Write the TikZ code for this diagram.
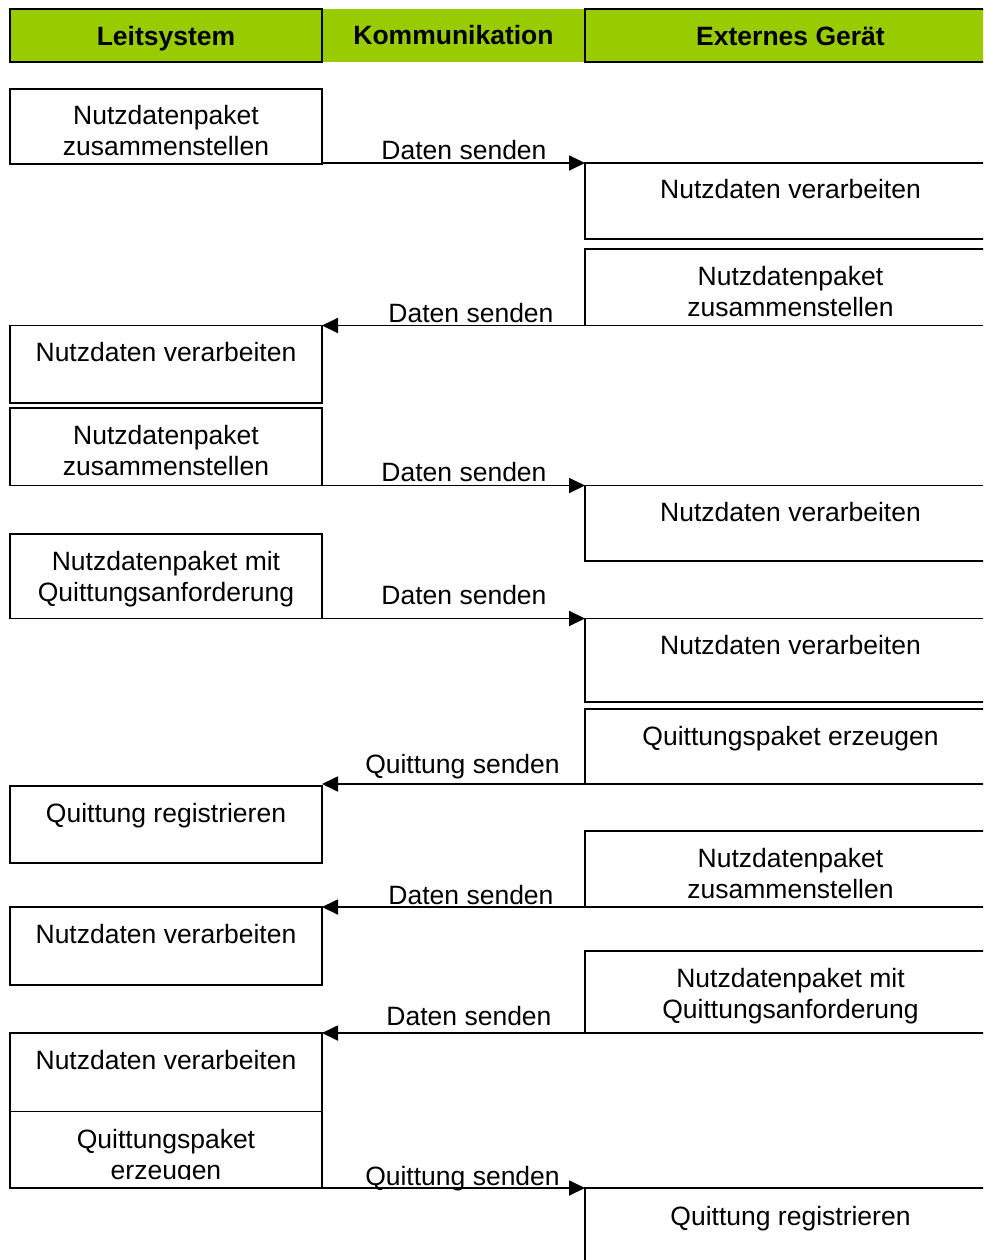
\documentclass[tikz,border=0pt]{standalone}
\usepackage{fontspec}
\setmainfont{Liberation Sans}
\usetikzlibrary{arrows.meta,calc}
\definecolor{hdrgreen}{HTML}{99CC00}
% first-line baseline for stacked box texts
\newcommand\ml[1]{\begin{tabular}[t]{@{}c@{}}#1\end{tabular}}
\tikzset{
  lbox/.style={draw=black, line width=1.8pt, inner sep=0pt, outer sep=0pt,
               minimum width=312pt, anchor=north west},
  rbox/.style={lbox, minimum width=411pt},
  plain/.style={inner sep=0pt, outer sep=0pt, minimum width=312pt, anchor=north west},
  txt/.style={font=\fontsize{26.5}{31}\selectfont, inner sep=0pt, anchor=base},
  hdr/.style={font=\bfseries\fontsize{26.5}{31}\selectfont, inner sep=0pt, anchor=base},
  flow/.style={line width=1.8pt, -{Triangle[length=16pt,width=15pt]}},
}
\begin{document}
\begin{tikzpicture}[x=1pt,y=-1pt]
\path[use as bounding box, clip] (0,0) rectangle (983,1260);

% swimlane headers
\fill[hdrgreen] (322,9) rectangle (585,62);
\node[draw=black, line width=1.8pt, fill=hdrgreen, inner sep=0pt, outer sep=0pt,
      minimum width=312pt, minimum height=53pt, anchor=north west] (H1) at (10,9) {};
\node[draw=black, line width=1.8pt, fill=hdrgreen, inner sep=0pt, outer sep=0pt,
      minimum width=411pt, minimum height=53pt, anchor=north west] (H3) at (585,9) {};
\node[hdr] (H1t) at (166,46) {Leitsystem};
\node[hdr] (H2t) at (453.5,44.5) {Kommunikation};
\node[hdr] (H3t) at (790.5,46) {Externes Gerät};

% boxes, left lane
\node[lbox, minimum height=75pt]   (L1) at (10,89) {};
\node[lbox, minimum height=77.5pt] (L2) at (10,325.5) {};
\node[lbox, minimum height=77.5pt] (L3) at (10,408) {};
\node[lbox, minimum height=84.5pt] (L4) at (10,534) {};
\node[lbox, minimum height=77pt]   (L5) at (10,786) {};
\node[lbox, minimum height=78pt]   (L6) at (10,907) {};
\node[plain, minimum height=78pt]  (L7) at (10,1033) {};
\node[plain, minimum height=77pt]  (L8) at (10,1111) {};
\draw[line width=1.8pt] (L7.north west) rectangle (L8.south east);
\draw[line width=0.9pt] (L7.south west) -- (L7.south east);

% boxes, right lane
\node[rbox, minimum height=76pt]   (R1) at (585,163) {};
\node[rbox, minimum height=76.5pt] (R2) at (585,249) {};
\node[rbox, minimum height=75.5pt] (R3) at (585,485.5) {};
\node[rbox, minimum height=83.5pt] (R4) at (585,618.5) {};
\node[rbox, minimum height=75pt]   (R5) at (585,709) {};
\node[rbox, minimum height=76pt]   (R6) at (585,831) {};
\node[rbox, minimum height=82pt]   (R7) at (585,951) {};
\node[rbox, minimum height=100pt]  (R8) at (585,1188) {};

% box texts
\node[txt] (L1t) at ([yshift=-36pt]L1.north) {\ml{Nutzdatenpaket\\zusammenstellen}};
\node[txt] (L2t) at ([yshift=-36pt]L2.north) {Nutzdaten verarbeiten};
\node[txt] (L3t) at ([yshift=-36pt]L3.north) {\ml{Nutzdatenpaket\\zusammenstellen}};
\node[txt] (L4t) at ([yshift=-36pt]L4.north) {\ml{Nutzdatenpaket mit\\Quittungsanforderung}};
\node[txt] (L5t) at ([yshift=-36pt]L5.north) {Quittung registrieren};
\node[txt] (L6t) at ([yshift=-36pt]L6.north) {Nutzdaten verarbeiten};
\node[txt] (L7t) at ([yshift=-36pt]L7.north) {Nutzdaten verarbeiten};
\begin{scope}
  \clip (L8.north west) rectangle ([yshift=-68pt]L8.north east);
  \node[txt] (L8t) at ([yshift=-37pt]L8.north) {\ml{Quittungspaket\\erzeugen}};
\end{scope}

\node[txt] (R1t) at ([yshift=-36pt]R1.north) {Nutzdaten verarbeiten};
\node[txt] (R2t) at ([yshift=-36pt]R2.north) {\ml{Nutzdatenpaket\\zusammenstellen}};
\node[txt] (R3t) at ([yshift=-36pt]R3.north) {Nutzdaten verarbeiten};
\node[txt] (R4t) at ([yshift=-36pt]R4.north) {Nutzdaten verarbeiten};
\node[txt] (R5t) at ([yshift=-36pt]R5.north) {Quittungspaket erzeugen};
\node[txt] (R6t) at ([yshift=-36pt]R6.north) {\ml{Nutzdatenpaket\\zusammenstellen}};
\node[txt] (R7t) at ([yshift=-36pt]R7.north) {\ml{Nutzdatenpaket mit\\Quittungsanforderung}};
\node[txt] (R8t) at ([yshift=-37pt]R8.north) {Quittung registrieren};

% messages between the lanes
\draw[flow] (L1.east |- R1.north) -- (R1.north west);
\draw[flow] (R2.south west) -- (L2.north east);
\draw[flow] (L3.south east) -- (R3.north west);
\draw[flow] (L4.south east) -- (R4.north west);
\draw[flow] (R5.south west) -- (L5.east |- R5.south);
\draw[flow] (R6.south west) -- (L6.north east);
\draw[flow] (R7.south west) -- (L7.north east);
\draw[flow] (L8.south east) -- (R8.north west);

% message labels
\node[txt] (m1) at (464,160)    {Daten senden};
\node[txt] (m2) at (471,322)    {Daten senden};
\node[txt] (m3) at (464,481.5)  {Daten senden};
\node[txt] (m4) at (464,604)    {Daten senden};
\node[txt] (m5) at (462.5,773.5){Quittung senden};
\node[txt] (m6) at (471,904)    {Daten senden};
\node[txt] (m7) at (469,1025.5) {Daten senden};
\node[txt] (m8) at (462.5,1185) {Quittung senden};
\end{tikzpicture}
\end{document}
